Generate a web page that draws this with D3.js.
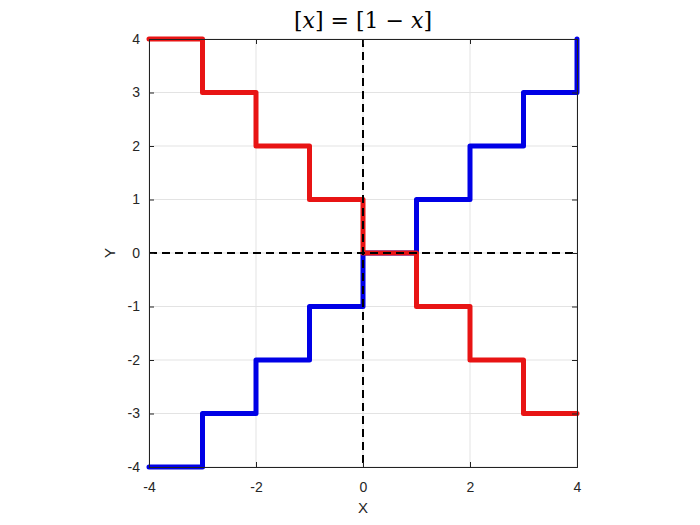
<!DOCTYPE html>
<html><head><meta charset="utf-8">
<script src="https://cdn.jsdelivr.net/npm/d3@7"></script>
<style>body{margin:0;background:#fff}svg{display:block}</style>
</head><body>
<svg id="c" width="700" height="525"></svg>
<script>
const xs = [-4,-3,-2,-1,0,1,2,3,4];
const blueY = [-4,-3,-2,-1,0,1,2,3,4];
const redY = [4,3,2,1,0,-1,-2,-3,-3];
const xTicks = [-4,-2,0,2,4];
const yTicks = [-4,-3,-2,-1,0,1,2,3,4];

const svg = d3.select("#c");
const L=149,R=577,T=39,B=467;
const x = d3.scaleLinear().domain([-4,4]).range([L,R]);
const y = d3.scaleLinear().domain([-4,4]).range([B,T]);
const font = "'Liberation Sans', Arial, sans-serif";

// grid
svg.append("g").selectAll("line").data(xTicks).join("line")
  .attr("x1",d=>x(d)).attr("x2",d=>x(d)).attr("y1",T).attr("y2",B)
  .attr("stroke","#e3e3e3").attr("stroke-width",1);
svg.append("g").selectAll("line").data(yTicks).join("line")
  .attr("y1",d=>y(d)).attr("y2",d=>y(d)).attr("x1",L).attr("x2",R)
  .attr("stroke","#e3e3e3").attr("stroke-width",1);

const line = d3.line().x(d=>x(d[0])).y(d=>y(d[1])).curve(d3.curveStepAfter);
svg.append("path").attr("d",line(xs.map((v,i)=>[v,blueY[i]])))
  .attr("fill","none").attr("stroke","#0000e6").attr("stroke-width",5).attr("stroke-linejoin","round").attr("stroke-linecap","round");
svg.append("path").attr("d",line(xs.map((v,i)=>[v,redY[i]])))
  .attr("fill","none").attr("stroke","#e81414").attr("stroke-width",5).attr("stroke-linejoin","round").attr("stroke-linecap","round");

// dashed axes
svg.append("line").attr("x1",x(0)).attr("x2",x(0)).attr("y1",T).attr("y2",B)
  .attr("stroke","#000").attr("stroke-width",2).attr("stroke-dasharray","8,5");
svg.append("line").attr("x1",L).attr("x2",R).attr("y1",y(0)).attr("y2",y(0))
  .attr("stroke","#000").attr("stroke-width",2).attr("stroke-dasharray","8,5");

// axes
const ax = svg.append("g").attr("transform",`translate(0,${B})`)
  .call(d3.axisBottom(x).tickValues(xTicks).tickSize(-5).tickPadding(15).tickFormat(d3.format("d")));
const ay = svg.append("g").attr("transform",`translate(${L},0)`)
  .call(d3.axisLeft(y).tickValues(yTicks).tickSize(-5).tickPadding(9).tickFormat(d3.format("d")));
const axT = svg.append("g").attr("transform",`translate(0,${T})`)
  .call(d3.axisTop(x).tickValues(xTicks).tickSize(-5).tickFormat(""));
const ayR = svg.append("g").attr("transform",`translate(${R},0)`)
  .call(d3.axisRight(y).tickValues(yTicks).tickSize(-5).tickFormat(""));
[ax,ay,axT,ayR].forEach(g=>{
  g.select(".domain").attr("stroke","#222").attr("stroke-width",1);
  g.selectAll(".tick line").attr("stroke","#222");
  g.selectAll("text").attr("font-family",font).attr("font-size",14).attr("fill","#262626");
});
ay.selectAll("text").text(d=>d<0?"-"+Math.abs(d):d);
ax.selectAll("text").text(d=>d<0?"-"+Math.abs(d):d);

svg.append("text").attr("x",(L+R)/2).attr("y",513).attr("text-anchor","middle")
  .attr("font-family",font).attr("font-size",15).attr("fill","#262626").text("X");
svg.append("text").attr("transform",`translate(115,${(T+B)/2}) rotate(-90)`).attr("text-anchor","middle")
  .attr("font-family",font).attr("font-size",15).attr("fill","#262626").text("Y");

const t = svg.append("text").attr("x",(L+R)/2).attr("y",28).attr("text-anchor","middle")
  .attr("font-family","'DejaVu Serif','Liberation Serif',serif").attr("font-size",22).attr("fill","#000");
t.append("tspan").text("[");
t.append("tspan").attr("font-style","italic").text("x");
t.append("tspan").text("] = [1 − ");
t.append("tspan").attr("font-style","italic").text("x");
t.append("tspan").text("]");
</script>
</body></html>
